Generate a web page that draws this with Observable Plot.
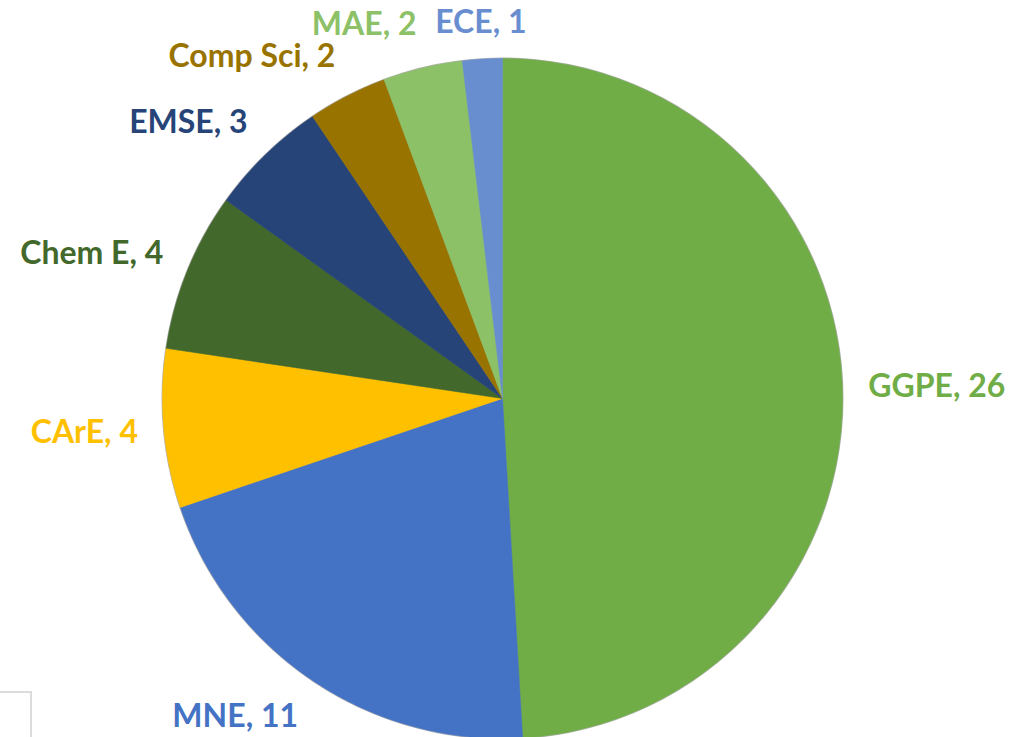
<!DOCTYPE html>
<html>
<head>
<meta charset="utf-8">
<script src="https://cdn.jsdelivr.net/npm/d3@7"></script>
<script src="https://cdn.jsdelivr.net/npm/@observablehq/plot@0.6"></script>
<style>
  html, body { margin: 0; padding: 0; background: #ffffff; }
  #wrap { position: relative; width: 1017px; height: 737px; overflow: hidden; background: #ffffff; }
  #wrap svg { display: block; }
  #corner { position: absolute; left: 0; top: 691px; width: 30px; height: 60px;
            border-top: 2px solid #dcdcdc; border-right: 2px solid #dcdcdc; }
</style>
</head>
<body>
<div id="wrap"></div>
<script>
// ---- data ----
const departments = ["GGPE", "MNE", "CArE", "Chem E", "EMSE", "Comp Sci", "MAE", "ECE"];
const counts = [26, 11, 4, 4, 3, 2, 2, 1];
const colors = ["#70AD47", "#4472C4", "#FFC000", "#43682B", "#264478", "#997300", "#8CC168", "#698ED0"];

// ---- layout ----
const W = 1017, H = 737;
const CX = 502, CY = 398, R = 340;
const LABEL_GAP = 26, LABEL_HALF_H = 18, LABEL_MIN_Y = 22;
const FONT = "Lato, 'Open Sans', 'DejaVu Sans', sans-serif";

const table = departments.map((name, i) => ({name, value: counts[i]}));
const arcs = d3.pie().sort(null).value(d => d.value).startAngle(0).endAngle(2 * Math.PI)(table);

const poly = [];
arcs.forEach((a) => {
  const name = a.data.name;
  poly.push({name, x: 0, y: 0});
  const n = Math.max(4, Math.ceil((a.endAngle - a.startAngle) / (Math.PI / 360)));
  for (let k = 0; k <= n; k++) {
    const t = a.startAngle + (a.endAngle - a.startAngle) * k / n;
    poly.push({name, x: Math.sin(t), y: Math.cos(t)});
  }
  poly.push({name, x: 0, y: 0});
});

// labels placed just outside the slice mid-angle
const labels = arcs.map(a => {
  const m = (a.startAngle + a.endAngle) / 2;
  const s = Math.sin(m), c = Math.cos(m);
  const r = (R + LABEL_GAP) / R;
  let y = c * r + c * LABEL_HALF_H / R;
  y = Math.min(y, (CY - LABEL_MIN_Y) / R);
  return {
    name: a.data.name,
    text: `${a.data.name}, ${a.data.value}`,
    x: s * r,
    y,
    anchor: s > 0.1 ? "start" : s < -0.1 ? "end" : "middle"
  };
});

const textMark = (anchor) => Plot.text(labels.filter(d => d.anchor === anchor), {
  x: "x", y: "y", text: "text", fill: "name",
  textAnchor: anchor, lineAnchor: "middle",
  fontSize: 32, fontWeight: "bold", fontFamily: FONT
});

const chart = Plot.plot({
  width: W, height: H,
  margin: 0,
  x: {type: "linear", domain: [-CX / R, (W - CX) / R], range: [0, W], axis: null},
  y: {type: "linear", domain: [CY / R, (CY - H) / R], range: [0, H], axis: null},
  color: {domain: departments, range: colors},
  style: {background: "#ffffff", fontFamily: FONT, overflow: "visible"},
  marks: [
    Plot.dot([{x: 0, y: 0}], {x: "x", y: "y", r: R + 1, fill: "#000", fillOpacity: 0.3, stroke: "none", ariaLabel: "shadow"}),
    ...departments.map((dep, i) => Plot.line(poly.filter(p => p.name === dep), {
      x: "x", y: "y", fill: colors[i], stroke: colors[i], strokeWidth: 0.5, curve: "linear"
    })),
    textMark("start"),
    textMark("middle"),
    textMark("end")
  ]
});

// soft shadow around the pie
const ns = "http://www.w3.org/2000/svg";
const defs = document.createElementNS(ns, "defs");
const filter = document.createElementNS(ns, "filter");
filter.setAttribute("id", "pieShadow");
filter.setAttribute("x", "-20%"); filter.setAttribute("y", "-20%");
filter.setAttribute("width", "140%"); filter.setAttribute("height", "140%");
const blur = document.createElementNS(ns, "feGaussianBlur");
blur.setAttribute("stdDeviation", "5");
filter.appendChild(blur);
defs.appendChild(filter);
chart.insertBefore(defs, chart.firstChild);
const shadowG = chart.querySelector('g[aria-label="shadow"]');
if (shadowG) shadowG.setAttribute("filter", "url(#pieShadow)");

const wrap = document.getElementById("wrap");
wrap.appendChild(chart);
const corner = document.createElement("div");
corner.id = "corner";
wrap.appendChild(corner);
</script>
</body>
</html>
